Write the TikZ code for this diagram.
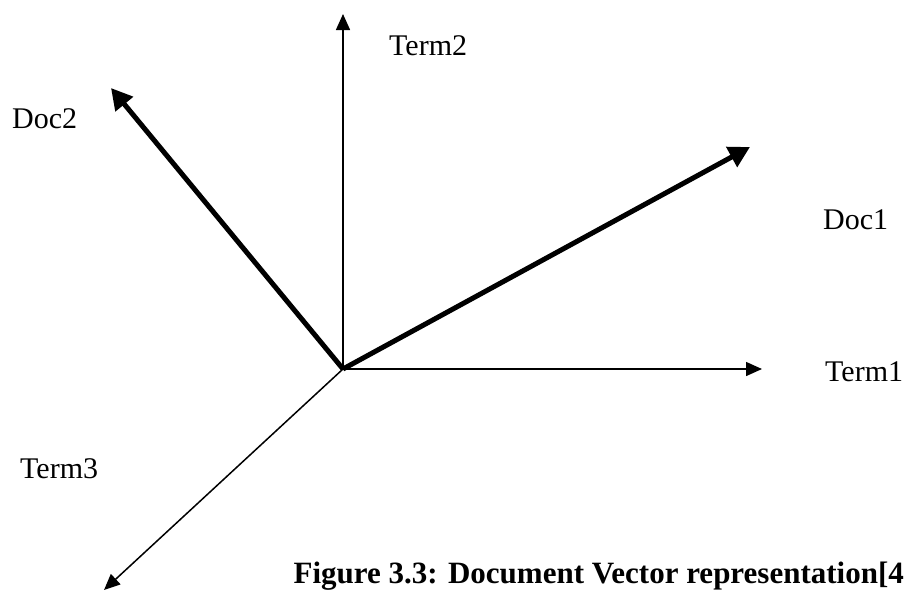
\documentclass[tikz,border=0pt]{standalone}
\usepackage{fontspec}
\setmainfont{Liberation Serif}
\usetikzlibrary{arrows.meta}

\begin{document}
\begin{tikzpicture}[x=1pt,y=-1pt,
        axis/.style={line width=1.5pt, -{Triangle[length=16pt,width=14pt]}},
        docvec/.style={line width=5pt, -{Triangle[length=21pt,width=22pt]}},
        lbl/.style={font=\fontsize{30}{36}\selectfont, inner sep=0pt, anchor=base west}]
        \useasboundingbox (0,0) rectangle (906,592);
        \clip (0,0) rectangle (906,592);

        % osy
        \coordinate (O) at (343,369);
        \coordinate (T1) at (762,369);
        \coordinate (T2) at (343,14);
        \coordinate (T3) at (104,590);
        \draw[axis] (O) -- (T1);
        \draw[axis] (O) -- (T2);
        \draw[axis] (O) -- (T3);

        % vektory dokumentu
        \coordinate (D1) at (750,147);
        \coordinate (D2) at (111,88);
        \draw[docvec] (O) -- (D1);
        \draw[docvec] (O) -- (D2);

        % popisky
        \node[lbl] (term1) at (825,381) {Term1};
        \node[lbl] (term2) at (389,55) {Term2};
        \node[lbl] (term3) at (20,478) {Term3};
        \node[lbl] (doc1) at (823,229) {Doc1};
        \node[lbl] (doc2) at (12,128) {Doc2};

        \node[lbl, anchor=base east, font=\fontsize{31}{36}\selectfont\bfseries] (caption) at (904,583) {Figure 3.3: Document Vector representation[4};
    \end{tikzpicture}
\end{document}
